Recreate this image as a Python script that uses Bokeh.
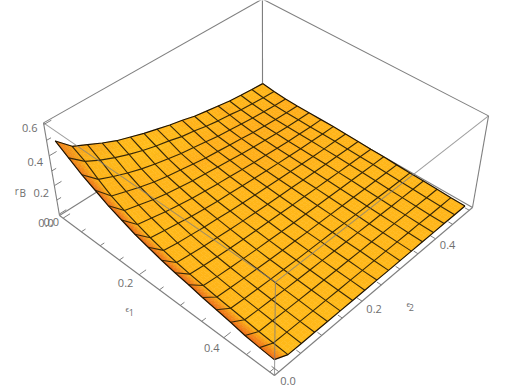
from bokeh.plotting import figure
from bokeh.embed import file_html
from bokeh.resources import INLINE
from bokeh.core.properties import value
import numpy as np

# ---- data ----
E1 = [i / 32 for i in range(17)]
E2 = [j / 32 for j in range(17)]
R0  = [.495,.405,.36,.315,.275,.245,.215,.19,.165,.145,.121,.105,.09,.074,.065,.057,.05]
R1  = [.44,.36,.31,.27,.235,.205,.18,.16,.135,.12,.10,.085,.075,.06,.052,.045,.04]
R2  = [.385,.295,.255,.22,.19,.165,.145,.125,.11,.095,.08,.07,.06,.05,.043,.037,.032]
R3  = [.34,.24,.21,.18,.155,.135,.12,.105,.09,.08,.07,.06,.05,.043,.037,.033,.03]
R4  = [.295,.20,.175,.15,.13,.115,.10,.09,.08,.07,.06,.052,.045,.04,.035,.032,.03]
R5  = [.26,.165,.145,.125,.11,.095,.085,.075,.068,.06,.052,.046,.04,.036,.033,.03,.03]
R6  = [.225,.135,.12,.105,.09,.08,.07,.065,.058,.052,.047,.042,.038,.034,.032,.03,.03]
R7  = [.20,.11,.095,.085,.075,.068,.06,.055,.05,.046,.042,.038,.035,.032,.03,.029,.028]
R8  = [.175,.09,.08,.07,.062,.056,.05,.046,.042,.04,.037,.034,.032,.03,.028,.026,.025]
R9  = [.155,.075,.065,.058,.052,.047,.043,.04,.037,.034,.032,.03,.028,.026,.025,.023,.022]
R10 = [.14,.062,.053,.047,.042,.038,.035,.032,.03,.028,.026,.025,.024,.023,.022,.021,.02]
R11 = [.12,.05,.043,.038,.034,.03,.028,.026,.024,.023,.022,.021,.02,.019,.018,.017,.016]
R12 = [.105,.04,.034,.03,.027,.024,.022,.021,.02,.019,.018,.017,.016,.015,.014,.013,.013]
R13 = [.09,.03,.026,.023,.02,.018,.017,.016,.015,.014,.013,.012,.012,.011,.011,.01,.01]
R14 = [.07,.02,.018,.016,.014,.013,.012,.011,.011,.01,.01,.009,.009,.008,.008,.007,.007]
R15 = [.06,.012,.01,.009,.008,.008,.007,.007,.006,.006,.006,.005,.005,.005,.004,.004,.004]
R16 = [.052,.005,.004,.004,.003,.003,.003,.003,.003,.002,.002,.002,.002,.002,.002,.002,.002]
RB = [R0,R1,R2,R3,R4,R5,R6,R7,R8,R9,R10,R11,R12,R13,R14,R15,R16]

E_TICKS_MAJOR = [0.0, 0.2, 0.4]
E_TICKS_MINOR = [0.05, 0.1, 0.15, 0.25, 0.3, 0.35, 0.45, 0.5]
Z_TICKS_MAJOR = [0.0, 0.2, 0.4, 0.6]
Z_TICKS_MINOR = [0.1, 0.3, 0.5]
E_LABELS = ["0.0", "0.2", "0.4"]
Z_LABELS = ["0.0", "0.2", "0.4", "0.6"]

# ---- camera: box coordinates (a, b, c) in 0..1 to screen ----
CAM_U = (59.0, 178.8, 241.9, -19.1)
CAM_V = (215.0, 110.5, -115.1, -101.5)
CAM_W = (1.0, -0.1321, 0.1484, -0.0725)
E_LO, E_HI = -0.01, 0.51
Z_LO, Z_HI = -0.01, 0.61

def box(e1, e2, z):
    return (np.asarray(e1, float) - E_LO) / (E_HI - E_LO), (np.asarray(e2, float) - E_LO) / (E_HI - E_LO), (np.asarray(z, float) - Z_LO) / (Z_HI - Z_LO)

def cam(a, b, c):
    w = CAM_W[0] + CAM_W[1] * a + CAM_W[2] * b + CAM_W[3] * c
    return (CAM_U[0] + CAM_U[1] * a + CAM_U[2] * b + CAM_U[3] * c) / w, (CAM_V[0] + CAM_V[1] * a + CAM_V[2] * b + CAM_V[3] * c) / w

p = figure(width=506, height=389, x_range=(0, 506), y_range=(389, 0), output_backend="svg",
           toolbar_location=None, min_border=0, outline_line_color=None, background_fill_color="white")
p.axis.visible = False
p.grid.visible = False
p.styles = {"position": "absolute", "left": "0px", "top": "0px"}

GRAY = "#7f7f7f"
def edge(a0, b0, c0, a1, b1, c1, **kw):
    x, y = cam(np.array([a0, a1], float), np.array([b0, b1], float), np.array([c0, c1], float))
    p.line(x, y, line_color=GRAY, line_width=1.1, **kw)

# back edges of the box
for e in [(0,0,0,0,0,1),(0,1,0,0,1,1),(1,1,0,1,1,1),(0,0,1,0,1,1),(0,1,1,1,1,1),(0,0,0,0,1,0),(0,1,0,1,1,0),
          (0,0,0,1,0,0),(1,0,0,1,1,0)]:
    edge(*e)

# ticks under the surface
def ticks(vals, fn, ln, width):
    xs, ys = [], []
    for t in vals:
        a0, b0, c0, a1, b1, c1 = fn(t, ln)
        x, y = cam(np.array([a0, a1]), np.array([b0, b1]), np.array([c0, c1]))
        xs.append(list(x)); ys.append(list(y))
    p.multi_line(xs, ys, line_color=GRAY, line_width=width)

def e1_tick(t, ln):
    a = box(t, 0, 0)[0]; return a, 0.0, 0.0, a, ln, 0.0
def e2_tick(t, ln):
    b = box(0, t, 0)[1]; return 1.0, b, 0.0, 1.0 - ln, b, 0.0
def z_tick(t, ln):
    c = box(0, 0, t)[2]; return 0.0, 0.0, c, 0.0, ln, c

for fn, major, minor in [(e1_tick, E_TICKS_MAJOR, E_TICKS_MINOR), (e2_tick, E_TICKS_MAJOR, E_TICKS_MINOR), (z_tick, Z_TICKS_MAJOR, Z_TICKS_MINOR)]:
    ticks(major, fn, 0.03, 1.0)
    ticks(minor, fn, 0.018, 1.0)

# surface
Z = np.array(RB, float)
A, B = np.meshgrid(box(E1, 0, 0)[0], box(0, E2, 0)[1], indexing="ij")
C = box(0, 0, Z)[2]
X, Y = cam(A, B, C)

# shade at every node of the table, from its surface normal
SHADE = np.zeros((17, 17, 3))
for i in range(17):
    for j in range(17):
        i0 = min(i, 15); j0 = min(j, 15)
        dca = (C[i0 + 1, j] - C[i0, j]) / (A[i0 + 1, j] - A[i0, j])
        dcb = (C[i, j0 + 1] - C[i, j0]) / (B[i, j0 + 1] - B[i, j0])
        n = np.array([-dca, -dcb, 1.0]); n /= np.linalg.norm(n)
        SHADE[i, j] = (255 - 60 * max(0.0, n[1] - 0.5),
                       np.clip(178 + 58 * n[0] - 68 * n[1] - 90 * max(0.0, n[1] - 0.5), 105, 206), 24)

SUB = 4
xs, ys, cols = [], [], []
for i in range(16):
    for j in range(15, -1, -1):
        for si in range(SUB):
            for sj in range(SUB - 1, -1, -1):
                us = np.array([si, si + 1, si + 1, si]) / SUB
                vs = np.array([sj, sj, sj + 1, sj + 1]) / SUB
                def bil(F):
                    return (1 - us) * (1 - vs) * F[i, j] + us * (1 - vs) * F[i + 1, j] + us * vs * F[i + 1, j + 1] + (1 - us) * vs * F[i, j + 1]
                xs.append(list(bil(X))); ys.append(list(bil(Y)))
                u0, v0 = (si + .5) / SUB, (sj + .5) / SUB
                rgb = (1 - u0) * (1 - v0) * SHADE[i, j] + u0 * (1 - v0) * SHADE[i + 1, j] + u0 * v0 * SHADE[i + 1, j + 1] + (1 - u0) * v0 * SHADE[i, j + 1]
                cols.append("#%02x%02x%02x" % tuple(int(q) for q in rgb))
p.patches(xs, ys, fill_color=cols, line_color=cols, line_width=0.5)

# mesh lines
mx = [list(X[i, :]) for i in range(1, 16)] + [list(X[:, j]) for j in range(1, 16)]
my = [list(Y[i, :]) for i in range(1, 16)] + [list(Y[:, j]) for j in range(1, 16)]
p.multi_line(mx, my, line_color="#3a2a08", line_width=1.15)

# boundary of the surface
bx = [list(X[0, :]), list(X[-1, :]), list(X[:, 0]), list(X[:, -1])]
by = [list(Y[0, :]), list(Y[-1, :]), list(Y[:, 0]), list(Y[:, -1])]
p.multi_line(bx, by, line_color="#1f1404", line_width=1.2)

# front edges of the box over the surface
for e in [(0,0,1,1,0,1),(1,1,1,1,0,1),(1,0,0,1,0,1)]:
    edge(*e, line_alpha=0.75)

TXT = "#6e6e6e"
FONT = value("Open Sans")
def labels(vals, names, fn, offs, size="11px"):
    for t, s, (dx, dy) in zip(vals, names, offs):
        x, y = cam(*[np.array(float(q)) for q in fn(t)])
        p.text([float(x)], [float(y)], text=[s], text_font=FONT, text_font_size=size, text_color=TXT,
               text_align="center", text_baseline="middle", x_offset=dx, y_offset=dy)

labels(E_TICKS_MAJOR, E_LABELS, lambda t: (box(t, 0, 0)[0], 0, 0), [(-17, 4.5), (-13.5, 8), (-12, 10)])
labels(E_TICKS_MAJOR, E_LABELS, lambda t: (1, box(0, t, 0)[1], 0), [(9, 9), (12, 8), (12, 6)])
labels(Z_TICKS_MAJOR, Z_LABELS, lambda t: (0, 0, box(0, 0, t)[2]), [(-8, 8), (-13, 7), (-14, 6), (-14, 4)])
e1_mid = lambda t: (box(t, 0, 0)[0], 0, 0)
e2_mid = lambda t: (1, box(0, t, 0)[1], 0)
z_mid = lambda t: (0, 0, box(0, 0, t)[2])
labels([0.25, 0.25], ["ϵ", "1"], e1_mid, [(-32, 19), (-28, 23)], "9px")
labels([0.25, 0.25], ["ϵ", "2"], e2_mid, [(27, 19), (30, 23)], "9px")
labels([0.3, 0.3], ["r", "B"], z_mid, [(-35, 20), (-29, 22)], "10px")

open("out.html", "w").write(file_html(p, INLINE))
